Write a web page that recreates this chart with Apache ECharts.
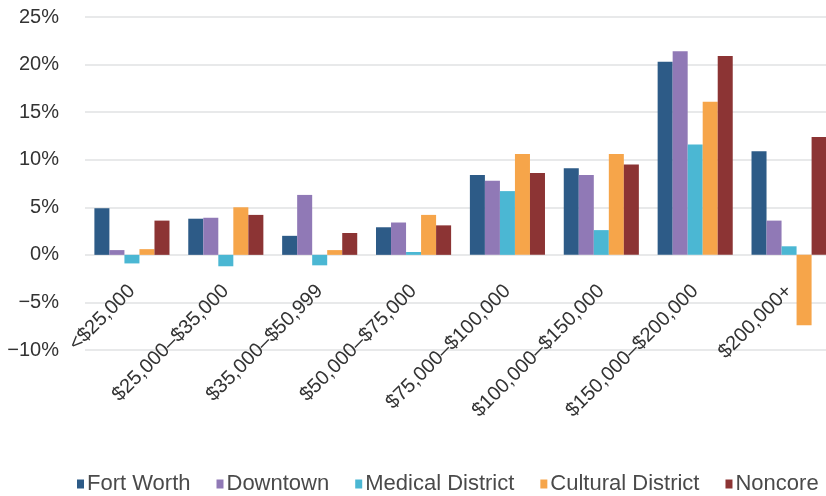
<!DOCTYPE html>
<html><head><meta charset="utf-8">
<script src="https://cdn.jsdelivr.net/npm/echarts@6/dist/echarts.min.js"></script>
<style>html,body{margin:0;padding:0;background:#fff}#c{width:826px;height:496px}</style>
</head><body><div id="c"></div>
<script>
var categories = ['<$25,000','$25,000–$35,000','$35,000–$50,999','$50,000–$75,000','$75,000–$100,000','$100,000–$150,000','$150,000–$200,000','$200,000+'];
var seriesNames = ['Fort Worth','Downtown','Medical District','Cultural District','Noncore'];
var fortWorth = [4.9, 3.8, 2.0, 2.9, 8.4, 9.1, 20.3, 10.9];
var downtown = [0.5, 3.9, 6.3, 3.4, 7.8, 8.4, 21.4, 3.6];
var medical = [-0.9, -1.2, -1.1, 0.3, 6.7, 2.6, 11.6, 0.9];
var cultural = [0.6, 5.0, 0.5, 4.2, 10.6, 10.6, 16.1, -7.4];
var noncore = [3.6, 4.2, 2.3, 3.1, 8.6, 9.5, 20.9, 12.4];
var colors = ['#2d5b87','#9079b6','#4bb7d3','#f6a54a','#8c3434'];
var data = [fortWorth, downtown, medical, cultural, noncore];
var chart = echarts.init(document.getElementById('c'));
chart.setOption({
  animation:false,
  color: colors,
  textStyle:{fontFamily:'Liberation Sans'},
  grid:{left:85,right:-10,top:17,bottom:146,containLabel:false,outerBoundsMode:'none'},
  legend:{bottom:-4,left:72,itemWidth:7,itemHeight:9,itemGap:26,icon:'rect',
    textStyle:{fontSize:22,color:'#4a4a4a',padding:[0,0,0,-2]}},
  xAxis:{type:'category',data:categories,offset:-94,
    axisLine:{show:false},axisTick:{show:false},
    axisLabel:{rotate:45,interval:0,fontSize:20,color:'#333',margin:32}},
  yAxis:{type:'value',min:-10,max:25,interval:5,
    axisLine:{show:false},axisTick:{show:false},
    axisLabel:{formatter:function(v){return (v<0?'\u2212'+(-v):v)+'%';},fontSize:20,color:'#333',margin:26},
    splitLine:{lineStyle:{color:'#e8e9ea',width:2}}},
  series: seriesNames.map(function(n,i){return {name:n,type:'bar',data:data[i],barGap:'0%',barCategoryGap:'20%'};})
});
</script></body></html>
